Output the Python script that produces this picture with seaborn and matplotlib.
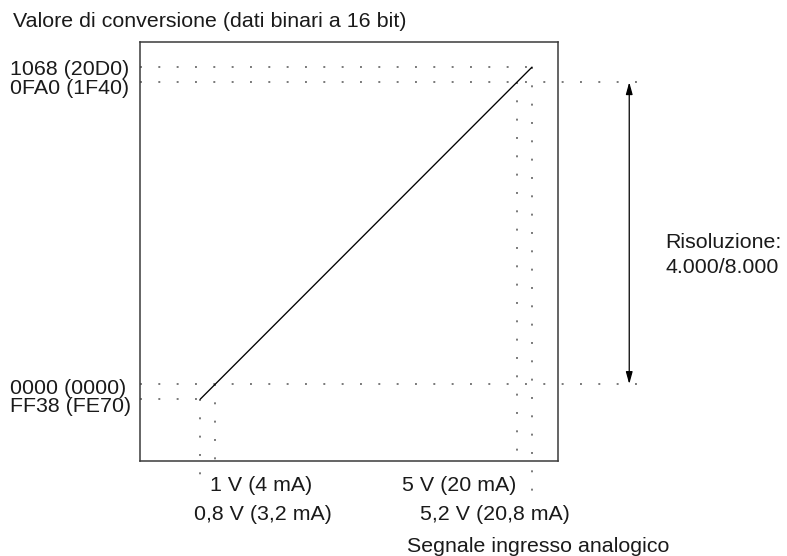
import matplotlib
matplotlib.use("Agg")
import matplotlib.pyplot as plt
import seaborn as sns
import pandas as pd

# ---------------- data ----------------
input_v = [0.8, 1.0, 5.0, 5.2]            # analog input signal (V)
codes = [-400, 0, 8000, 8400]             # conversion value (decimal, 8000 resolution)
y_labels = ["FF38 (FE70)", "0000 (0000)", "0FA0 (1F40)", "1068 (20D0)"]
x_labels = ["0,8 V (3,2 mA)", "1 V (4 mA)", "5 V (20 mA)", "5,2 V (20,8 mA)"]
title_text = "Valore di conversione (dati binari a 16 bit)"
xaxis_text = "Segnale ingresso analogico"
res_text = ["Risoluzione:", "4.000/8.000"]

df = pd.DataFrame({"v": input_v, "code": codes})

# ---------------- style ----------------
sns.set_theme(style="white")
plt.rcParams["font.family"] = ["Liberation Sans", "DejaVu Sans"]
plt.rcParams["lines.scale_dashes"] = False

W, H = 787, 556
fig = plt.figure(figsize=(W / 100, H / 100), dpi=100)
fig.patch.set_facecolor("white")

# axes box in pixels: left 140, right 558, top 42, bottom 460
ax = fig.add_axes([140 / W, (H - 460.6) / H, (558 - 140) / W, (460.6 - 41.8) / H])
ax.set_xlim(0, 5.545)
ax.set_ylim(-2030, 9071)
ax.set_xticks([])
ax.set_yticks([])
for sp in ax.spines.values():
    sp.set_visible(True)
    sp.set_color("#3a3a3a")
    sp.set_linewidth(1.1)

# main transfer line
sns.lineplot(data=df, x="v", y="code", ax=ax, color="black", linewidth=0.95,
             zorder=3, legend=False)
ax.set_xlabel("")
ax.set_ylabel("")

dot = dict(color="#555555", linewidth=1.1, linestyle=(0, (1.4, 11.8)),
           clip_on=False, zorder=2)
x_ext = 6.77          # right end of the 0 / 8000 guide lines
ybot = ax.get_ylim()[0]

# horizontal guides
ax.plot([0, input_v[3]], [codes[3], codes[3]], **dot)
ax.plot([0, x_ext], [codes[2], codes[2]], **dot)
ax.plot([0, x_ext], [codes[1], codes[1]], **dot)
ax.plot([0, input_v[0]], [codes[0], codes[0]], **dot)
# vertical guides
ax.plot([input_v[0], input_v[0]], [codes[0], -2620], **dot)
ax.plot([input_v[1], input_v[1]], [codes[1], ybot], **dot)
ax.plot([input_v[2], input_v[2]], [codes[2], ybot], **dot)
ax.plot([input_v[3], input_v[3]], [codes[3], -3120], **dot)

# resolution arrow
ax.annotate("", xy=(6.49, codes[2]), xytext=(6.49, codes[1]),
            xycoords="data", textcoords="data", annotation_clip=False,
            arrowprops=dict(arrowstyle="<|-|>,head_length=0.72,head_width=0.2",
                            color="black", lw=0.9, shrinkA=0, shrinkB=0,
                            mutation_scale=10))

FS = 15.4
TC = "#1a1a1a"


def ftext(px, py, s):
    fig.text(px / W, 1 - py / H, s, ha="left", va="baseline",
             fontsize=FS, color=TC)


ftext(13, 26.8, title_text)
# y labels (left)
ftext(10, 411.8, y_labels[0])
ftext(10, 393.5, y_labels[1])
ftext(10, 93.8, y_labels[2])
ftext(10, 74.8, y_labels[3])
# x labels (below)
ftext(194, 519.6, x_labels[0])
ftext(210, 491.0, x_labels[1])
ftext(402, 491.0, x_labels[2])
ftext(420, 519.6, x_labels[3])
ftext(407, 551.5, xaxis_text)
# resolution
ftext(665, 248.0, res_text[0])
ftext(665, 273.5, res_text[1])

fig.savefig("out.png", dpi=100, facecolor="white")
